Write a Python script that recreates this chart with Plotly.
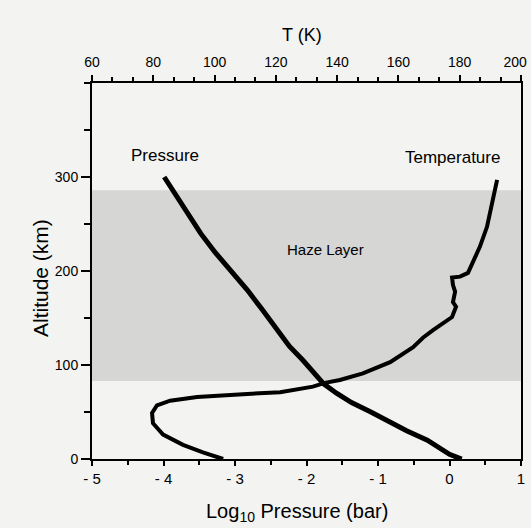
import plotly.graph_objects as go

# Pressure profile: altitude (km) vs log10 pressure (bar)
pres_alt = [300, 280, 260, 240, 220, 200, 180, 160, 140, 120, 105, 90, 80, 70, 60, 50, 40, 30, 20, 10, 5, 0]
pres_logp = [-3.99, -3.82, -3.65, -3.48, -3.28, -3.05, -2.83, -2.63, -2.44, -2.24, -2.05, -1.87,
             -1.76, -1.58, -1.37, -1.10, -0.86, -0.60, -0.31, -0.10, 0.00, 0.17]

# Temperature profile: altitude (km) vs T (K)
temp_alt = [297, 272, 247, 226, 209, 198, 194, 193, 185, 178, 167, 162, 151, 145, 137, 129, 119,
            103, 91, 84, 81, 77, 71, 69, 66, 62, 57, 49, 38, 26, 15, 7, 0]
temp_k = [192.2, 190.5, 188.9, 186.6, 184.3, 182.7, 180.1, 177.5, 177.8, 178.5, 177.8, 178.8, 177.5,
          174.6, 171.3, 168.0, 164.8, 157.3, 148.4, 140.9, 136.0, 132.1, 121.4, 109.3, 94.3, 85.5,
          81.2, 79.6, 79.9, 83.2, 89.7, 96.2, 102.8]

# Haze layer altitude bounds (km)
haze_bottom = 83
haze_top = 286

# Tick labels
p_ticks = [-5, -4, -3, -2, -1, 0, 1]
p_ticktext = ["- 5", "- 4", "- 3", "- 2", "- 1", "0", "1"]
t_ticks = [60, 80, 100, 120, 140, 160, 180, 200]
t_ticktext = ["60", "80", "100", "120", "140", "160", "180", "200\u00a0\u00a0\u00a0"]
alt_ticks = [0, 100, 200, 300]

FONT = "Liberation Sans, Arial, Helvetica, sans-serif"
BG = "#f3f3f1"

fig = go.Figure()

fig.add_shape(type="rect", xref="paper", yref="y", x0=0, x1=1, y0=haze_bottom, y1=haze_top,
              fillcolor="#d6d6d4", line_width=0, layer="below")

fig.add_trace(go.Scatter(x=pres_logp, y=pres_alt, mode="lines", xaxis="x", yaxis="y",
                         line=dict(color="black", width=5), showlegend=False))
fig.add_trace(go.Scatter(x=temp_k, y=temp_alt, mode="lines", xaxis="x2", yaxis="y",
                         line=dict(color="black", width=4), showlegend=False))

# curve labels
fig.add_annotation(x=-3.98, y=323, xref="x", yref="y", text="Pressure", showarrow=False,
                   font=dict(family=FONT, size=17, color="black"))
fig.add_annotation(x=177.8, y=321, xref="x2", yref="y", text="Temperature", showarrow=False,
                   font=dict(family=FONT, size=17, color="black"))
fig.add_annotation(x=-1.74, y=223, xref="x", yref="y", text="Haze Layer", showarrow=False,
                   font=dict(family=FONT, size=15, color="black"))

# axis titles
fig.add_annotation(x=0.4895, y=1.128, xref="paper", yref="paper", text="T (K)", showarrow=False,
                   xanchor="center", yanchor="middle", font=dict(family=FONT, size=18, color="black"))
fig.add_annotation(x=0.478, y=-0.141, xref="paper", yref="paper", text="Log<sub>10</sub> Pressure (bar)",
                   showarrow=False, xanchor="center", yanchor="middle",
                   font=dict(family=FONT, size=20, color="black"))
fig.add_annotation(x=-0.12, y=0.48, xref="paper", yref="paper", text="Altitude (km)", showarrow=False,
                   textangle=-90, xanchor="center", yanchor="middle",
                   font=dict(family=FONT, size=21, color="black"))

axis_common = dict(showgrid=False, zeroline=False, showline=True, linecolor="black", linewidth=2,
                   ticks="outside", tickcolor="black", tickwidth=1.5, automargin=False,
                   ticklabeloverflow="allow")

fig.update_layout(
    width=531, height=528,
    margin=dict(l=92, r=10, t=83, b=69),
    paper_bgcolor=BG, plot_bgcolor=BG,
    font=dict(family=FONT, color="black"),
    xaxis=dict(range=[-5, 1], tickvals=p_ticks, ticktext=p_ticktext, ticklen=5,
               minor=dict(dtick=0.5, tick0=-5, ticks="outside", ticklen=4, tickcolor="black", tickwidth=1.5),
               tickfont=dict(family=FONT, size=15, color="black"),
               **axis_common),
    xaxis2=dict(range=[60, 200], overlaying="x", side="top", tickvals=t_ticks, ticktext=t_ticktext, ticklen=6,
                minor=dict(dtick=20 / 3, tick0=60, ticks="outside", ticklen=4, tickcolor="black", tickwidth=1.5),
                tickfont=dict(family=FONT, size=14, color="black"), ticklabelstandoff=2,
                **axis_common),
    yaxis=dict(range=[0, 400], tickvals=alt_ticks, ticklen=9, mirror=True,
               minor=dict(dtick=50, tick0=0, ticks="outside", ticklen=6, tickcolor="black", tickwidth=1.5),
               tickfont=dict(family=FONT, size=14, color="black"),
               **axis_common),
)

fig.write_html("out.html", config={"displayModeBar": False},
               post_script="document.body.style.margin='0';document.body.style.overflow='hidden';"
                           "document.body.style.background='" + BG + "';")
